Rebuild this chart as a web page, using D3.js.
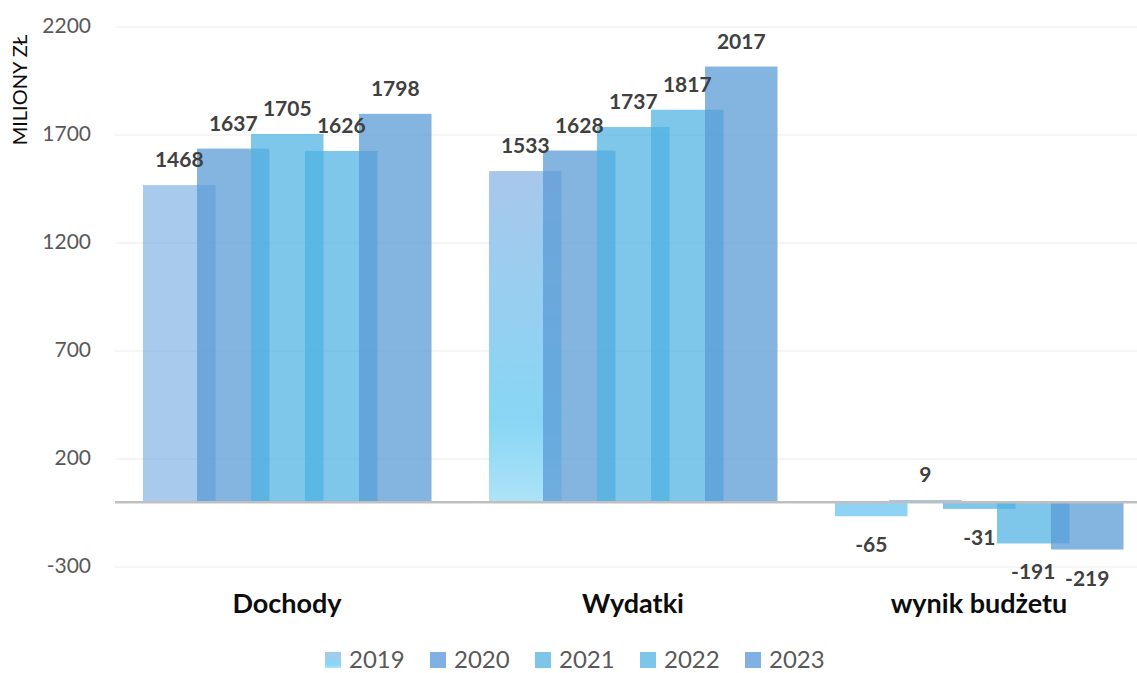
<!DOCTYPE html>
<html>
<head>
<meta charset="utf-8">
<script src="https://cdn.jsdelivr.net/npm/d3@7"></script>
<style>
  body { margin: 0; background: #fff; }
  svg text { font-family: Lato, "Open Sans", sans-serif; }
</style>
</head>
<body>
<div id="chart"></div>
<script>
// Dane
const categories = ['Dochody', 'Wydatki', 'wynik budżetu'];
const years = ['2019', '2020', '2021', '2022', '2023'];
const v2019 = [1468, 1533, -65];
const v2020 = [1637, 1628, 9];
const v2021 = [1705, 1737, -31];
const v2022 = [1626, 1817, -191];
const v2023 = [1798, 2017, -219];
const yTicks = [-300, 200, 700, 1200, 1700, 2200];
const series = [v2019, v2020, v2021, v2022, v2023];

// Kolory serii
const colors = [
    'rgba(80,150,220,0.5)',
    'rgba(91,155,213,0.75)',
    'rgba(78,178,226,0.73)',
    'rgba(78,178,226,0.73)',
    'rgba(91,155,213,0.75)'
];
const legendColors = ['url(#g2019)', '#80b1e2', '#7dc6e9', '#7dc6e9', '#80b1e2'];
// Wyjątki dla pojedynczych punktów
const pointFill = {
    'Wydatki|2019': 'url(#g2019)',
    'wynik budżetu|2019': '#8ed3f3'
};

const width = 1137, height = 673;

const svg = d3.select('#chart')
    .append('svg')
    .attr('width', width)
    .attr('height', height);

const defs = svg.append('defs');
const grad = defs.append('linearGradient')
    .attr('id', 'g2019')
    .attr('x1', 0).attr('y1', 0).attr('x2', 0).attr('y2', 1);
grad.append('stop').attr('offset', '0%').attr('stop-color', '#a8c7eb');
grad.append('stop').attr('offset', '75%').attr('stop-color', '#88d6f5');
grad.append('stop').attr('offset', '100%').attr('stop-color', '#ade3f8');

// Skale
const x = d3.scaleBand()
    .domain(categories)
    .range([114, 1152]);

const inner = d3.scaleLinear()
    .domain([0, years.length - 1])
    .range([-144, 72]);
const barW = 72.5;

const y = d3.scaleLinear()
    .domain([-300, 2200])
    .range([567, 27]);

// Linie siatki
svg.append('g')
    .selectAll('line')
    .data(yTicks)
    .join('line')
    .attr('x1', 115)
    .attr('x2', width)
    .attr('y1', d => y(d))
    .attr('y2', d => y(d))
    .attr('stroke', '#ebebeb')
    .attr('stroke-width', 1.2);

// Etykiety osi Y
svg.append('g')
    .selectAll('text')
    .data(yTicks)
    .join('text')
    .attr('x', 91)
    .attr('y', d => y(d) + 6)
    .attr('text-anchor', 'end')
    .attr('font-size', 21)
    .attr('fill', '#595959')
    .text(d => d);

// Tytuł osi Y
svg.append('text')
    .attr('transform', 'translate(27,90) rotate(-90)')
    .attr('text-anchor', 'middle')
    .attr('font-size', 20)
    .attr('fill', '#0d0d0d')
    .text('MILIONY ZŁ');

// Słupki
series.forEach((vals, si) => {
    const g = svg.append('g');
    g.selectAll('rect')
        .data(vals.map((v, ci) => ({ v, cat: categories[ci] })))
        .join('rect')
        .attr('x', d => x(d.cat) + x.bandwidth() / 2 + inner(si))
        .attr('width', barW)
        .attr('y', d => y(Math.max(0, d.v)))
        .attr('height', d => Math.abs(y(d.v) - y(0)))
        .attr('fill', d => pointFill[d.cat + '|' + years[si]] || colors[si]);
});

// Linia zera
svg.append('line')
    .attr('x1', 115)
    .attr('x2', width)
    .attr('y1', y(0))
    .attr('y2', y(0))
    .attr('stroke', '#bfbfbf')
    .attr('stroke-width', 2.5);

// Etykiety wartości
series.forEach((vals, si) => {
    svg.append('g')
        .selectAll('text')
        .data(vals.map((v, ci) => ({ v, cat: categories[ci] })))
        .join('text')
        .attr('x', d => x(d.cat) + x.bandwidth() / 2 + inner(si) + barW / 2)
        .attr('y', d => d.v >= 0 ? y(d.v) - 18 : y(d.v) + 36)
        .attr('text-anchor', 'middle')
        .attr('font-size', 21)
        .attr('font-weight', 'bold')
        .attr('fill', '#404040')
        .text(d => d.v);
});

// Etykiety kategorii
svg.append('g')
    .selectAll('text')
    .data(categories)
    .join('text')
    .attr('x', d => x(d) + x.bandwidth() / 2)
    .attr('y', 613)
    .attr('text-anchor', 'middle')
    .attr('font-size', 27)
    .attr('font-weight', 'bold')
    .attr('fill', '#0d0d0d')
    .text(d => d);

// Legenda
const legend = svg.append('g')
    .selectAll('g')
    .data(years)
    .join('g')
    .attr('transform', (d, i) => `translate(${325 + i * 105},652)`);

legend.append('rect')
    .attr('width', 16)
    .attr('height', 16)
    .attr('fill', (d, i) => legendColors[i]);

legend.append('text')
    .attr('x', 24)
    .attr('y', 15.8)
    .attr('font-size', 24)
    .attr('fill', '#595959')
    .text(d => d);
</script>
</body>
</html>
